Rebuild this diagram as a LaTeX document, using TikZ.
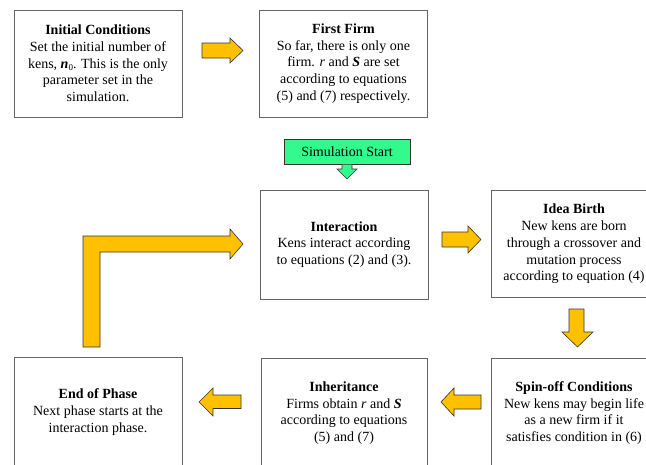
\documentclass[tikz,border=0pt]{standalone}
\usepackage{fontspec}
\setmainfont{Liberation Serif}
\definecolor{arrowgold}{RGB}{255,192,0}
\definecolor{startgreen}{RGB}{50,250,140}
\definecolor{boxedge}{RGB}{100,100,100}
\begin{document}
\begin{tikzpicture}[x=1pt,y=-1pt,
  stagebox/.style={draw=boxedge,line width=0.9pt,fill=white,minimum width=168pt,minimum height=107pt,
    align=center,inner sep=2pt,font=\fontsize{14}{16.7}\selectfont},
  blockarrow/.style={fill=arrowgold,draw=black!80,line width=0.6pt,line join=miter},
  startbox/.style={draw=black!80,line width=0.7pt,fill=startgreen,minimum width=126pt,minimum height=25pt,
    inner sep=1pt,font=\fontsize{14}{16}\selectfont}]
\useasboundingbox (0,0) rectangle (646,464);
\clip (0,0) rectangle (646,464);
% boxes
\node[stagebox] (init) at (98,63.5) {\textbf{Initial Conditions}\\Set the initial number of\\kens, \textbf{\textit{n}}\raisebox{-0.35ex}{\fontsize{9}{10}\selectfont 0}. This is the only\\parameter set in the\\simulation.};
\node[stagebox] (first) at (343.5,63.5) {\textbf{First Firm}\\So far, there is only one\\firm. \textit{r} and \textbf{\textit{S}} are set\\according to equations\\(5) and (7) respectively.};
\node[startbox] (start) at (347,151.5) {Simulation Start};
\node[stagebox,minimum height=109pt] (inter) at (344,244.5) {\textbf{Interaction}\\Kens interact according\\to equations (2) and (3).};
\node[stagebox,minimum width=166pt] (idea) at (574,244) {\textbf{Idea Birth}\\New kens are born\\through a crossover and\\mutation process\\according to equation (4)};
\node[stagebox,minimum height=110pt] (endp) at (98,412) {\textbf{End of Phase}\\Next phase starts at the\\interaction phase.};
\node[stagebox,minimum width=166pt,minimum height=110pt] (inher) at (344,413) {\textbf{Inheritance}\\Firms obtain \textit{r} and \textbf{\textit{S}}\\according to equations\\(5) and (7)};
\node[stagebox,minimum width=166pt,minimum height=110pt] (spin) at (574,413) {\textbf{Spin-off Conditions}\\New kens may begin life\\as a new firm if it\\satisfies condition in (6)};
% start pointer
\draw[fill=startgreen,draw=black!80,line width=0.6pt,line join=miter]
  (342,164.5) -- (342,169) -- (337,169) -- (347,179) -- (357,169) -- (352,169) -- (352,164.5);
% block arrows
\draw[blockarrow] (202,43) -- (230,43) -- (230,38) -- (243,50.5) -- (230,63) -- (230,58) -- (202,58) -- cycle;
\draw[blockarrow] (442,232) -- (468,232) -- (468,226) -- (481,239.5) -- (468,253) -- (468,247) -- (442,247) -- cycle;
\draw[blockarrow] (569,309) -- (584,309) -- (584,332) -- (593,332) -- (577.5,347) -- (562,332) -- (569,332) -- cycle;
\draw[blockarrow] (481,395) -- (454,395) -- (454,388) -- (441,402) -- (454,416) -- (454,409) -- (481,409) -- cycle;
\draw[blockarrow] (241,395) -- (213,395) -- (213,388) -- (199,402) -- (213,416) -- (213,408.5) -- (241,408.5) -- cycle;
% L arrow
\draw[blockarrow] (83,347) -- (83,236) -- (230,236) -- (230,229) -- (243,244) -- (230,259) -- (230,252) -- (100,252) -- (100,347) -- cycle;
\end{tikzpicture}
\end{document}
